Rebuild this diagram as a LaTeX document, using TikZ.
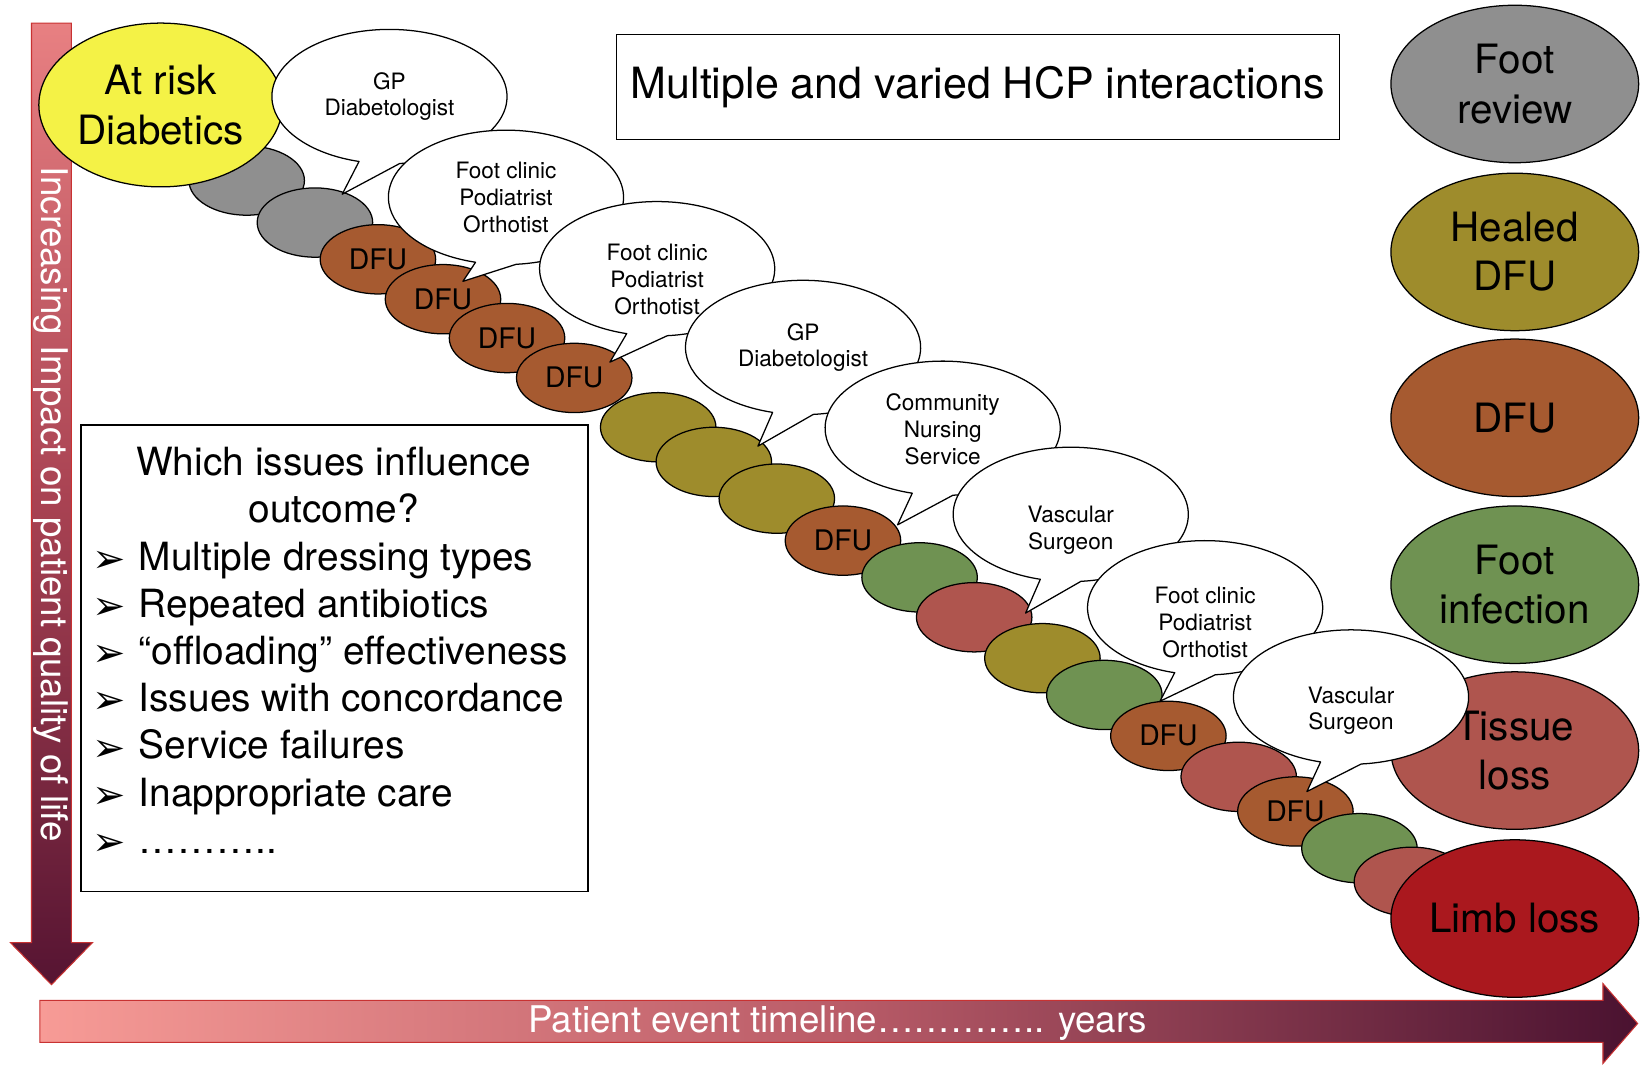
\documentclass[tikz,border=0pt]{standalone}
\usepackage{fontspec}
\setmainfont{TeX Gyre Heros}
\newfontfamily\dejavu{DejaVu Sans}
\usetikzlibrary{shapes.geometric}

\definecolor{riskyellow}{RGB}{244,242,70}
\definecolor{reviewgray}{RGB}{143,143,143}
\definecolor{healedolive}{RGB}{158,140,44}
\definecolor{dfubrown}{RGB}{166,90,48}
\definecolor{infectgreen}{RGB}{111,146,82}
\definecolor{tissuered}{RGB}{175,85,78}
\definecolor{limbred}{RGB}{170,24,30}
\definecolor{arrowtop}{RGB}{232,128,130}
\definecolor{arrowmid}{RGB}{168,66,82}
\definecolor{arrowbot}{RGB}{86,20,50}
\definecolor{timelineleft}{RGB}{247,155,150}
\definecolor{timelinemid}{RGB}{186,92,104}
\definecolor{timelineright}{RGB}{74,18,48}
\definecolor{arrowedge}{RGB}{200,50,50}

% speech bubble: name, centre x, centre y, y radius, tip x, tip y, text y, text
\newcommand{\callout}[8]{%
  \filldraw[bubble] (#2,-#3) ++(275:112 and #4)
    arc[start angle=275, end angle=615, x radius=112, y radius=#4]
    -- (#5,-#6) -- cycle;
  \node[bubbletext] (#1) at (#2,-#7) {#8};
}

\begin{document}
\begin{tikzpicture}[x=1pt, y=1pt,
  chain/.style={ellipse, draw=black, line width=1.2pt, minimum width=110pt,
    minimum height=66pt, inner sep=0pt, font=\fontsize{27}{30}\selectfont},
  legend/.style={ellipse, draw=black, line width=1.2pt, minimum width=236pt,
    minimum height=150pt, inner sep=0pt, align=center,
    font=\fontsize{38.5}{47}\selectfont},
  bubble/.style={fill=white, draw=black, line width=1.2pt, line join=round},
  bubbletext/.style={align=center, inner sep=0pt,
    font=\fontsize{21.5}{25.5}\selectfont},
  axislabel/.style={text=white, inner sep=0pt, font=\fontsize{35}{40}\selectfont},
  issuetext/.style={inner sep=0pt, font=\fontsize{37}{45}\selectfont},
  bulletmark/.style={inner sep=0pt, font=\dejavu\fontsize{38}{38}\selectfont},
  frame/.style={draw=black, line width=1.3pt, inner sep=0pt}
]
\useasboundingbox (0,0) rectangle (1568,-1015);

% vertical axis: impact on quality of life
\shadedraw[top color=arrowtop, bottom color=arrowbot, middle color=arrowmid,
    draw=arrowedge, line width=1pt]
  (30,-22) -- (68,-22) -- (68,-898) -- (88,-898) -- (49,-938)
  -- (10,-898) -- (30,-898) -- cycle;
\node[axislabel, rotate=-90] (vlabel) at (49,-480)
  {Increasing Impact on patient quality of life};

% horizontal axis: timeline
\shadedraw[left color=timelineleft, right color=timelineright,
    middle color=timelinemid, draw=arrowedge, line width=1pt]
  (38,-953) -- (1527,-953) -- (1527,-937) -- (1560,-975) -- (1527,-1013)
  -- (1527,-993) -- (38,-993) -- cycle;
\node[axislabel] (hlabel) at (798,-975) {Patient event timeline………….. years};

% title box
\node[frame, minimum width=689pt, minimum height=100pt,
    font=\fontsize{41}{48}\selectfont] (hcp) at (931.5,-83)
  {Multiple and varied HCP interactions};

% issues box
\node[frame, minimum width=483pt, minimum height=444pt] (issues) at (318.5,-627) {};
\node[issuetext, align=center] (question) at (318,-462)
  {Which issues influence\\outcome?};
\foreach \txt [count=\i] in {Multiple dressing types, Repeated antibiotics,
    “offloading” effectiveness, Issues with concordance, Service failures,
    Inappropriate care, ………..} {
  \node[bulletmark, anchor=base west] (mark\i) at (88,{-545-45*(\i-1)}) {➢};
  \node[issuetext, anchor=base west] (item\i) at (132,{-543-45*(\i-1)}) {\txt};
}

% chain of events
\node[chain, fill=reviewgray]  (c1)  at (235,-172) {};
\node[chain, fill=reviewgray]  (c2)  at (300,-212) {};
\node[chain, fill=dfubrown]    (c3)  at (360,-247) {DFU};
\node[chain, fill=dfubrown]    (c4)  at (422,-285) {DFU};
\node[chain, fill=dfubrown]    (c5)  at (483,-322) {DFU};
\node[chain, fill=dfubrown]    (c6)  at (547,-360) {DFU};
\node[chain, fill=healedolive] (c7)  at (627,-407) {};
\node[chain, fill=healedolive] (c8)  at (680,-440) {};
\node[chain, fill=healedolive] (c9)  at (740,-475) {};
\node[chain, fill=dfubrown]    (c10) at (803,-515) {DFU};
\node[chain, fill=infectgreen] (c11) at (876,-550) {};
\node[chain, fill=tissuered]   (c12) at (928,-588) {};
\node[chain, fill=healedolive] (c13) at (993,-627) {};
\node[chain, fill=infectgreen] (c14) at (1052,-662) {};
\node[chain, fill=dfubrown]    (c15) at (1113,-701) {DFU};
\node[chain, fill=tissuered]   (c16) at (1180,-740) {};
\node[chain, fill=dfubrown]    (c17) at (1234,-773) {DFU};
\node[chain, fill=infectgreen] (c18) at (1295,-808) {};
\node[chain, fill=tissuered]   (c19) at (1345,-840) {};

% key of outcomes
\node[legend, fill=reviewgray]  (review)    at (1443,-80)  {Foot\\review};
\node[legend, fill=healedolive] (healed)    at (1443,-240) {Healed\\DFU};
\node[legend, fill=dfubrown]    (dfu)       at (1443,-398) {DFU};
\node[legend, fill=infectgreen] (infection) at (1443,-557) {Foot\\infection};
\node[legend, fill=tissuered]   (tissue)    at (1443,-715) {Tissue\\loss};
\node[legend, fill=limbred]     (limb)      at (1443,-875) {Limb loss};

% starting point
\node[legend, fill=riskyellow, minimum width=232pt, minimum height=156pt]
  (atrisk) at (153,-100) {At risk\\Diabetics};

% health care professional contacts
\callout{b1}{371}{92}{64}{326}{185}{92}{GP\\Diabetologist}
\callout{b2}{482}{188}{64}{441}{268}{188}{Foot clinic\\Podiatrist\\Orthotist}
\callout{b3}{626}{256}{64}{581}{345}{266}{Foot clinic\\Podiatrist\\Orthotist}
\callout{b4}{765}{331}{64}{722}{425}{331}{GP\\Diabetologist}
\callout{b5}{898}{408}{64}{855}{500}{409}{Community\\Nursing\\Service}
\callout{b6}{1020}{490}{64}{977}{584}{505}{Vascular\\Surgeon}
\callout{b7}{1148}{579}{64}{1105}{668}{593}{Foot clinic\\Podiatrist\\Orthotist}
\callout{b8}{1287}{664}{64}{1245}{754}{677}{Vascular\\Surgeon}

\end{tikzpicture}
\end{document}
